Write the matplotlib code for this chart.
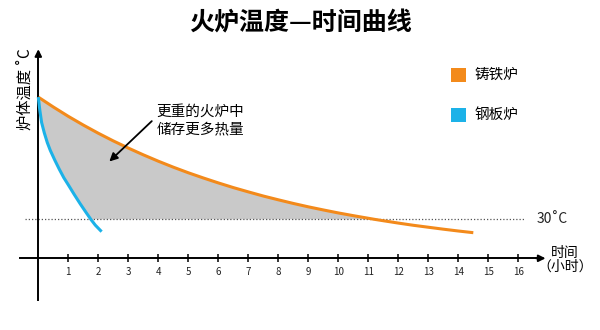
import numpy as np
import matplotlib
matplotlib.use("Agg")
import matplotlib.pyplot as plt

plt.rcParams['font.family'] = ['Noto Sans CJK SC', 'DejaVu Sans']

# readings from the picture (hours, deg C)
cast_hours = [0, 0.5, 1, 1.5, 2, 2.5, 3, 3.5, 4, 4.5, 5, 5.5, 6, 6.5, 7, 7.5, 8, 8.5, 9,
              9.5, 10, 10.5, 11, 11.2, 11.5, 12, 12.5, 13, 13.5, 14, 14.5]
cast_temp = [124, 116.4, 109.2, 102.5, 96.2, 90.3, 84.8, 79.6, 74.7, 70.1, 65.8, 61.8, 58.0,
             54.4, 51.1, 47.9, 45.0, 42.2, 39.6, 37.2, 34.9, 32.8, 30.8, 30.0, 28.9, 27.1,
             25.4, 23.9, 22.4, 21.0, 19.7]
steel_hours = [0, 0.05, 0.11, 0.2, 0.3, 0.4, 0.55, 0.7, 0.85, 1.0, 1.2, 1.4, 1.6, 1.75, 1.9, 2.11]
steel_temp = [124, 114, 104.5, 96.5, 89, 83, 75.5, 68.5, 62, 56.5, 49, 41.8, 35, 30, 25.5, 20.5]
tick_hours = list(range(1, 17))
room_temp = 30

orange = '#F38A1B'
blue = '#1CB2E8'

fig = plt.figure(figsize=(6, 3.3), dpi=100)
ax = fig.add_axes([0, 0, 1, 1])
ax.set_xlim(-38.3 / 30, 561.7 / 30)
ax.set_ylim(-71.7 / 1.3, 258.3 / 1.3)

# grey area between the two curves, down to room temperature
cast_h = np.array(cast_hours)
cast_t = np.array(cast_temp)
steel_h = np.array(steel_hours)
steel_t = np.array(steel_temp)
top = cast_t >= room_temp
low = steel_t >= room_temp
poly_x = np.concatenate([cast_h[top], steel_h[low][::-1]])
poly_y = np.concatenate([cast_t[top], steel_t[low][::-1]])
ax.fill(poly_x, poly_y, color='#C9C9C9', lw=0, zorder=1)

ax.plot([-0.45, 16.2], [room_temp, room_temp], ls=(0, (1, 1.6)), color='#555555', lw=0.9, zorder=2)
ax.text(16.6, room_temp, '30˚C', fontsize=10, va='center', ha='left', color='#222222')

ax.plot(cast_hours, cast_temp, color=orange, lw=2.2, zorder=3, solid_capstyle='butt')
ax.plot(steel_hours, steel_temp, color=blue, lw=2.2, zorder=3, solid_capstyle='butt')

# axes through the origin with arrow heads
for s in ['top', 'right']:
    ax.spines[s].set_visible(False)
ax.spines['bottom'].set_position(('data', 0))
ax.spines['left'].set_position(('data', 0))
ax.spines['bottom'].set_bounds(-0.6, 16.8)
ax.spines['left'].set_bounds(-32, 158)
ax.spines['bottom'].set_linewidth(1.4)
ax.spines['left'].set_linewidth(1.4)
ax.annotate('', xy=(17.0, 0), xytext=(16.5, 0),
            arrowprops=dict(arrowstyle='-|>', color='black', lw=1.4, mutation_scale=10))
ax.annotate('', xy=(0, 163), xytext=(0, 155),
            arrowprops=dict(arrowstyle='-|>', color='black', lw=1.4, mutation_scale=10))

ax.set_xticks(tick_hours)
ax.set_xticklabels([str(h) for h in tick_hours], fontsize=7, color='#222222')
ax.tick_params(axis='x', direction='inout', length=6, width=1.1, pad=3)
ax.set_yticks([])

ax.text(17.55, -1, '时间\n（小时）', fontsize=10, ha='center', va='center', linespacing=0.95)
ax.text(-0.45, 130, '炉体温度 ˚C', fontsize=11, rotation=90, ha='center', va='center')

fig.text(0.5, 0.93, '火炉温度—时间曲线', fontsize=18, fontweight='bold', ha='center', va='center')

ax.text(3.95, 106, '更重的火炉中\n储存更多热量', fontsize=10.5, ha='left', va='center', linespacing=1.35)
ax.annotate('', xy=(2.3, 73), xytext=(3.85, 107),
            arrowprops=dict(arrowstyle='-|>', color='black', lw=1.3, mutation_scale=12))

# legend boxes
for ty, label, col in [(141, '铸铁炉', orange), (110, '钢板炉', blue)]:
    ax.add_patch(plt.Rectangle((13.75, ty - 5.5), 0.5, 11, color=col, lw=0))
    ax.text(14.55, ty, label, fontsize=10.5, va='center', ha='left')

fig.savefig('out.png', dpi=100, facecolor='white')
